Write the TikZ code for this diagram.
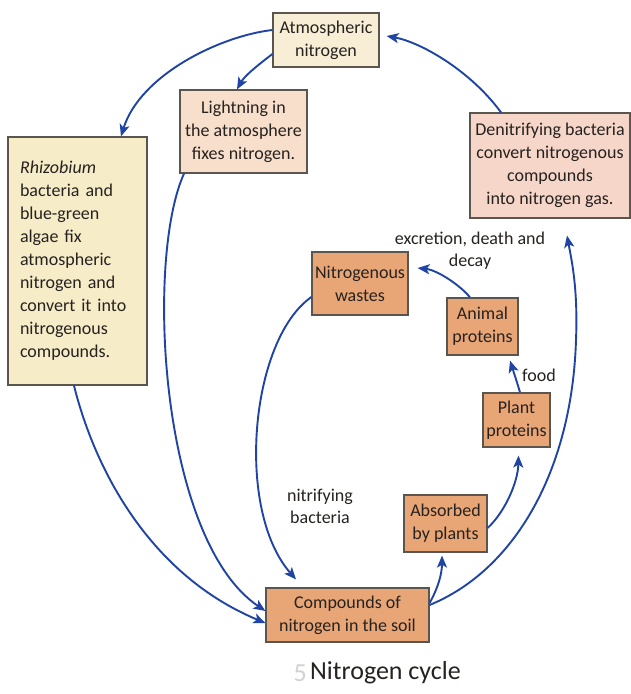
\documentclass[tikz,border=0pt]{standalone}
\usepackage{fontspec}
\setmainfont{Carlito}
\usetikzlibrary{arrows.meta}
\definecolor{arrowblue}{HTML}{2044A4}
\definecolor{boxline}{HTML}{5B5550}
\definecolor{txt}{HTML}{262220}
\definecolor{fillatm}{HTML}{F8EED6}
\definecolor{filllight}{HTML}{F8DFCB}
\definecolor{fillrhiz}{HTML}{F7ECC8}
\definecolor{filldenit}{HTML}{F6D6C8}
\definecolor{fillinner}{HTML}{E8A676}
\tikzset{
  basebox/.style={draw=boxline, line width=1.2pt, inner sep=0pt, align=center,
    text=txt, font=\fontsize{18}{23}\selectfont},
  outerbox/.style={basebox},
  innerbox/.style={basebox, fill=fillinner},
  lbl/.style={text=txt, font=\fontsize{18}{22}\selectfont, align=center, inner sep=0pt},
  flow/.style={draw=arrowblue, line width=1.9pt, -{Stealth[length=12pt,width=10pt,inset=3pt]}}
}
\begin{document}
\begin{tikzpicture}[x=1pt,y=-1pt]
\useasboundingbox (0,0) rectangle (631,694);
\fill[white] (0,0) rectangle (631,694);

% outer boxes
\node[outerbox, fill=fillatm, minimum width=106pt, minimum height=54pt] (atm) at (326,40) {Atmospheric\\nitrogen};
\node[outerbox, fill=filllight, minimum width=127pt, minimum height=83pt] (light) at (243.5,131.5) {Lightning in\\the atmosphere\\fixes nitrogen.};
\node[outerbox, fill=fillrhiz, minimum width=139pt, minimum height=248pt, text width=115pt, inner xsep=12pt, align=left] (rhiz) at (77.5,261)
  {\textit{Rhizobium}\\bacteria and\\blue-green\\algae fix\\atmospheric\\nitrogen and\\convert it into\\nitrogenous\\compounds.};
\node[outerbox, fill=filldenit, minimum width=160pt, minimum height=105pt] (denit) at (550,165.5) {Denitrifying bacteria\\convert nitrogenous\\compounds\\into nitrogen gas.};

% inner boxes
\node[innerbox, minimum width=96pt, minimum height=63pt] (nitro) at (360,283.5) {Nitrogenous\\wastes};
\node[innerbox, minimum width=71pt, minimum height=57pt] (animal) at (482.5,326.5) {Animal\\proteins};
\node[innerbox, minimum width=67pt, minimum height=54pt] (plant) at (516.5,420) {Plant\\proteins};
\node[innerbox, minimum width=83pt, minimum height=57pt] (absorb) at (445.5,523.5) {Absorbed\\by plants};
\node[innerbox, minimum width=163pt, minimum height=54pt] (comp) at (347.5,615) {Compounds of\\nitrogen in the soil};

% labels
\node[lbl] (excr) at (470,251) {excretion, death and\\decay};
\node[lbl] (nitrif) at (320,506) {nitrifying\\bacteria};
\node[lbl, anchor=west] (food) at (522,375) {food};
\node[text=txt, font=\fontsize{26}{30}\selectfont, inner sep=0pt] (cap) at (385.5,673) {Nitrogen cycle};
\node[text=gray!35, font=\fontsize{26}{30}\selectfont, inner sep=0pt, anchor=east] (capnum) at ([xshift=-3pt]cap.west) {5};

% connectors
\coordinate (denitbend) at (576,340);
\draw[flow] ([yshift=10pt]atm.west) .. controls (220,36) and (140,75) .. ([xshift=43.5pt]rhiz.north);
\draw[flow] ([yshift=-14pt]atm.west) .. controls (262,62) and (245,75) .. ([xshift=-6.5pt]light.north);
\draw[flow] ([xshift=-49pt]denit.north) .. controls (470,70) and (420,42) .. ([xshift=7pt,yshift=4pt]atm.east);
\draw[flow] ([xshift=-3.5pt]rhiz.south) .. controls (95,470) and (150,575) .. ([yshift=-8pt]comp.west);
\draw[flow] ([xshift=-59.5pt]light.south) .. controls (145,260) and (160,540) .. ([yshift=4pt]comp.west);
\draw[flow] ([yshift=-13.5pt]nitro.west) .. controls (250,340) and (235,510) .. ([xshift=-51.5pt,yshift=8pt]comp.north);
\draw[flow] ([yshift=12pt]comp.east) .. controls (437,590) and (442,575) .. ([xshift=-3.5pt,yshift=-3pt]absorb.south);
\draw[flow] ([yshift=-4.5pt]absorb.east) .. controls (505,512) and (518,482) .. ([xshift=2pt,yshift=-8pt]plant.south);
\draw[flow] ([xshift=3.5pt]plant.north) .. controls (517,382) and (513,370) .. ([xshift=27.5pt,yshift=-5pt]animal.south);
\draw[flow] ([xshift=-12.5pt]animal.north) .. controls (460,285) and (437,270) .. ([xshift=9pt,yshift=15.5pt]nitro.east);
\draw[flow] ([yshift=10pt]comp.east) .. controls (515,570) and (572,470) .. (denitbend)
  .. controls (578,290) and (572,262) .. ([xshift=17pt,yshift=-17pt]denit.south);
\end{tikzpicture}
\end{document}
